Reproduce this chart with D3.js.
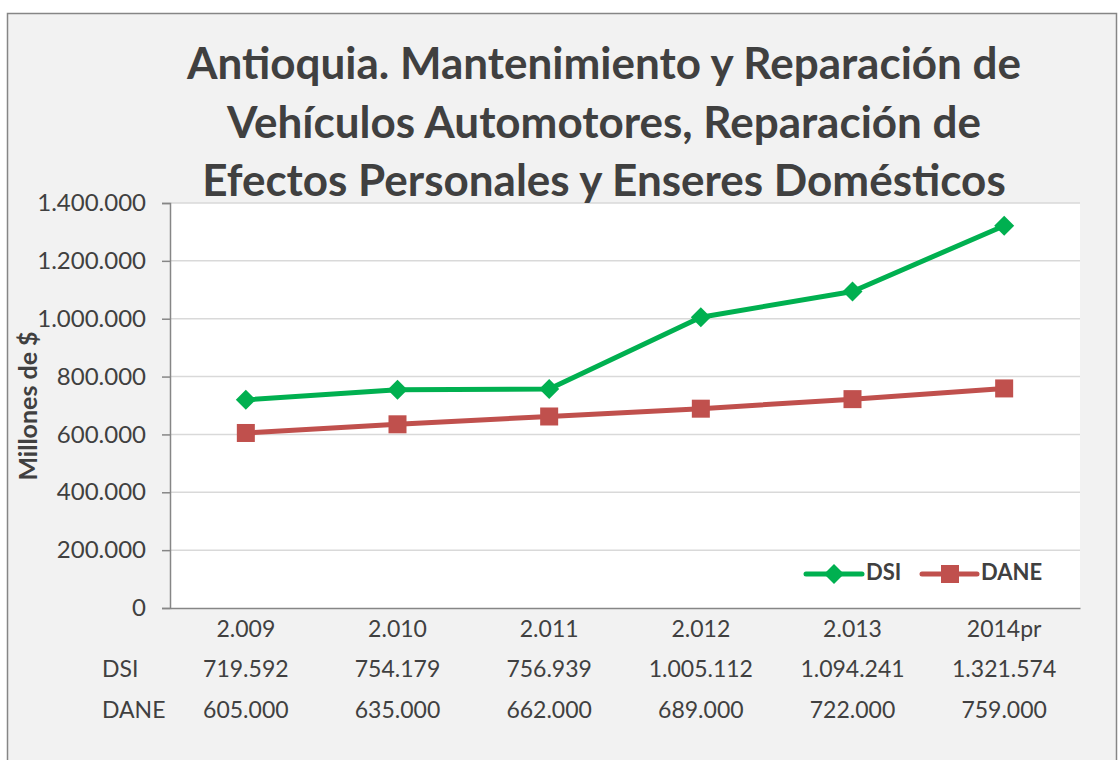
<!DOCTYPE html>
<html>
<head>
<meta charset="utf-8">
<script src="https://cdn.jsdelivr.net/npm/d3@7"></script>
<style>
  body { margin: 0; background: #fff; }
  svg { display: block; font-family: Lato, "Open Sans", sans-serif; }
</style>
</head>
<body>
<svg></svg>
<script>
// chart values
const categories = ['2.009', '2.010', '2.011', '2.012', '2.013', '2014pr']
const dsi = [719592, 754179, 756939, 1005112, 1094241, 1321574]
const dane = [605000, 635000, 662000, 689000, 722000, 759000]
const yTicks = [0, 200000, 400000, 600000, 800000, 1000000, 1200000, 1400000]
const titleLines = [
  'Antioquia. Mantenimiento y Reparación de',
  'Vehículos Automotores, Reparación de',
  'Efectos Personales y Enseres Domésticos'
]

// canvas and plot box
const width = 1118
const height = 760
const plot = { left: 170, right: 1080, top: 203, bottom: 608 }
const textColor = '#404040'
const green = '#00b050'
const red = '#c0504d'

const locale = d3.formatLocale({ decimal: ',', thousands: '.', grouping: [3], currency: ['$', ''] })
const fmt = locale.format(',d')

const svg = d3.select('svg')
  .attr('width', width)
  .attr('height', height)

// outer frame
svg.append('rect')
  .attr('x', 7.5).attr('y', 13.5)
  .attr('width', 1109).attr('height', 760)
  .attr('fill', '#f2f2f2')
  .attr('stroke', '#868686')
  .attr('stroke-width', 1.5)

svg.append('rect')
  .attr('x', plot.left).attr('y', plot.top)
  .attr('width', plot.right - plot.left)
  .attr('height', plot.bottom - plot.top)
  .attr('fill', '#fff')

const xScale = d3.scaleBand()
  .domain(categories)
  .range([plot.left, plot.right])
const yScale = d3.scaleLinear()
  .domain([0, 1400000])
  .range([plot.bottom, plot.top])
const cx = (d) => xScale(d) + xScale.bandwidth() / 2

// gridlines
svg.append('g')
  .selectAll('line')
  .data(yTicks.slice(1))
  .enter()
  .append('line')
  .attr('x1', plot.left).attr('x2', plot.right)
  .attr('y1', (d) => yScale(d)).attr('y2', (d) => yScale(d))
  .attr('stroke', '#d9d9d9')
  .attr('stroke-width', 1.5)

// y axis
const yAxis = d3.axisLeft(yScale)
  .tickValues(yTicks)
  .tickFormat(fmt)
  .tickSize(8)
  .tickPadding(16)
const yG = svg.append('g')
  .attr('id', 'y-axis')
  .attr('transform', 'translate(' + plot.left + ',0)')
  .call(yAxis)
yG.select('.domain').attr('stroke', '#868686').attr('stroke-width', 1.5)
yG.selectAll('.tick line').attr('stroke', '#868686').attr('stroke-width', 1.5)
yG.selectAll('.tick text')
  .attr('fill', textColor)
  .style('font-size', '24px')
  .style('font-family', 'Lato, sans-serif')

// x axis line, no ticks
const xAxis = d3.axisBottom(xScale).tickSize(0).tickPadding(12)
const xG = svg.append('g')
  .attr('id', 'x-axis')
  .attr('transform', 'translate(0,' + plot.bottom + ')')
  .call(xAxis)
xG.select('.domain').attr('stroke', '#868686').attr('stroke-width', 1.5)
xG.selectAll('.tick text')
  .attr('fill', textColor)
  .attr('dy', null)
  .attr('y', 23)
  .style('font-size', '23px')
  .style('font-family', 'Lato, sans-serif')
  .attr('dominant-baseline', 'middle')

// data table rows under the axis
const rows = [{ name: 'DSI', values: dsi, y: 671 }, { name: 'DANE', values: dane, y: 712 }]
rows.forEach((r) => {
  const g = svg.append('g')
  g.append('text')
    .attr('x', 102).attr('y', r.y)
    .attr('dominant-baseline', 'middle')
    .attr('fill', textColor)
    .style('font-size', '23px')
    .text(r.name)
  g.selectAll('text.val')
    .data(r.values)
    .enter()
    .append('text')
    .attr('class', 'val')
    .attr('x', (d, i) => cx(categories[i]))
    .attr('y', r.y)
    .attr('text-anchor', 'middle')
    .attr('dominant-baseline', 'middle')
    .attr('fill', textColor)
    .style('font-size', '23px')
    .text((d) => fmt(d))
})

// lines
const line = d3.line()
  .x((d, i) => cx(categories[i]))
  .y((d) => yScale(d))

svg.append('path')
  .datum(dane)
  .attr('d', line)
  .attr('fill', 'none')
  .attr('stroke', red)
  .attr('stroke-width', 5)
  .attr('stroke-linejoin', 'round')
  .attr('stroke-linecap', 'round')

svg.append('path')
  .datum(dsi)
  .attr('d', line)
  .attr('fill', 'none')
  .attr('stroke', green)
  .attr('stroke-width', 5)
  .attr('stroke-linejoin', 'round')
  .attr('stroke-linecap', 'round')

const diamond = d3.symbol().type(d3.symbolSquare).size(200)

svg.append('g')
  .selectAll('rect')
  .data(dane)
  .enter()
  .append('rect')
  .attr('x', (d, i) => cx(categories[i]) - 9)
  .attr('y', (d) => yScale(d) - 9)
  .attr('width', 18).attr('height', 18)
  .attr('fill', red)

svg.append('g')
  .selectAll('path')
  .data(dsi)
  .enter()
  .append('path')
  .attr('d', diamond)
  .attr('transform', (d, i) => 'translate(' + cx(categories[i]) + ',' + yScale(d) + ') rotate(45)')
  .attr('fill', green)

// legend
const legY = 574
const leg = svg.append('g')
leg.append('line').attr('x1', 806).attr('x2', 862).attr('y1', legY).attr('y2', legY)
  .attr('stroke', green).attr('stroke-width', 5).attr('stroke-linecap', 'round')
leg.append('path').attr('d', diamond)
  .attr('transform', 'translate(834,' + legY + ') rotate(45)')
  .attr('fill', green)
leg.append('text').attr('x', 866).attr('y', legY)
  .attr('dominant-baseline', 'middle')
  .attr('fill', textColor)
  .style('font-size', '22px').style('font-weight', 'bold')
  .text('DSI')
leg.append('line').attr('x1', 922).attr('x2', 977).attr('y1', legY).attr('y2', legY)
  .attr('stroke', red).attr('stroke-width', 5).attr('stroke-linecap', 'round')
leg.append('rect').attr('x', 941).attr('y', legY - 9).attr('width', 18).attr('height', 18)
  .attr('fill', red)
leg.append('text').attr('x', 981).attr('y', legY)
  .attr('dominant-baseline', 'middle')
  .attr('fill', textColor)
  .style('font-size', '22px').style('font-weight', 'bold')
  .text('DANE')

// title
svg.append('g')
  .selectAll('text')
  .data(titleLines)
  .enter()
  .append('text')
  .attr('x', 604)
  .attr('y', (d, i) => 79 + i * 58.5)
  .attr('text-anchor', 'middle')
  .attr('fill', textColor)
  .style('font-size', '44px')
  .style('font-weight', 'bold')
  .text((d) => d)

// y axis title
svg.append('text')
  .attr('transform', 'translate(37,406) rotate(-90)')
  .attr('text-anchor', 'middle')
  .attr('fill', textColor)
  .style('font-size', '25px')
  .style('font-weight', 'bold')
  .text('Millones de $')
</script>
</body>
</html>
